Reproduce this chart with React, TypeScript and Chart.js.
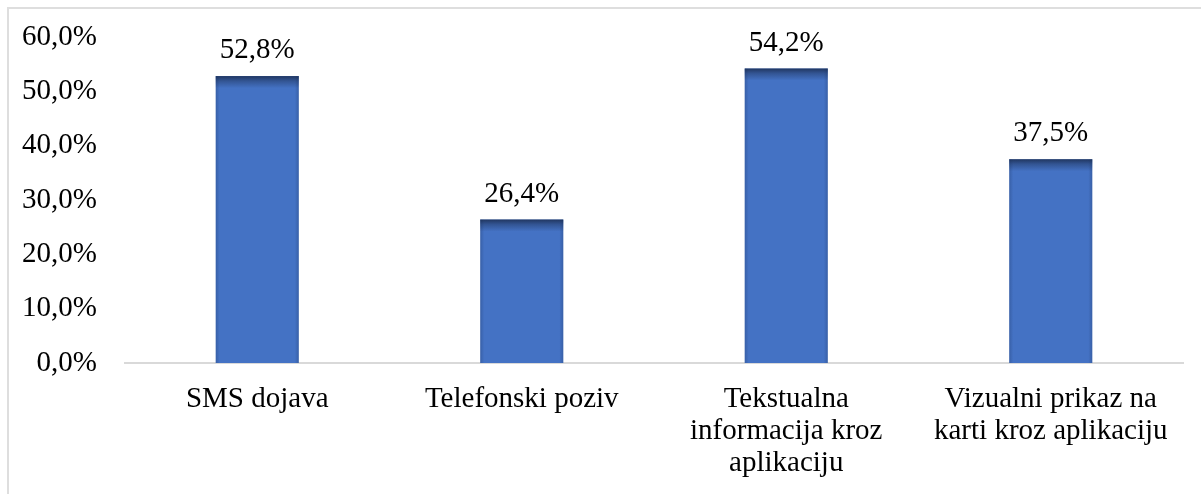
import React, { useEffect, useRef } from "react";
import { Chart, registerables } from "chart.js";

Chart.register(...registerables);

const categories: string[][] = [
  ["SMS dojava"],
  ["Telefonski poziv"],
  ["Tekstualna", "informacija kroz", "aplikaciju"],
  ["Vizualni prikaz na", "karti kroz aplikaciju"],
];
const values: number[] = [52.8, 26.4, 54.2, 37.5];
const yMin = 0;
const yMax = 60;
const yStep = 10;

const FONT = "'Liberation Serif', 'Times New Roman', serif";
const FS = 29;

const fmt = (v: number) => v.toFixed(1).replace(".", ",") + "%";

const dataLabelPlugin = {
  id: "dataLabels",
  afterDatasetsDraw(chart: any) {
    const ctx = chart.ctx;
    const meta = chart.getDatasetMeta(0);
    ctx.save();
    ctx.font = `${FS}px ${FONT}`;
    ctx.fillStyle = "#000";
    ctx.textAlign = "center";
    ctx.textBaseline = "alphabetic";
    meta.data.forEach((bar: any, i: number) => {
      ctx.fillText(fmt(values[i]), bar.x, bar.y - 18);
    });
    ctx.restore();
  },
};

const barShadePlugin = {
  id: "barShade",
  afterDatasetDraw(chart: any) {
    const ctx = chart.ctx;
    const meta = chart.getDatasetMeta(0);
    ctx.save();
    meta.data.forEach((bar: any) => {
      const left = bar.x - bar.width / 2;
      const right = bar.x + bar.width / 2;
      const top = bar.y;
      const bottom = bar.base;
      if (![left, right, top, bottom].every(Number.isFinite)) return;
      const gt = ctx.createLinearGradient(0, top, 0, top + 12);
      gt.addColorStop(0, "rgba(24,40,72,0.8)");
      gt.addColorStop(0.4, "rgba(24,40,72,0.4)");
      gt.addColorStop(1, "rgba(24,40,72,0)");
      ctx.fillStyle = gt;
      ctx.fillRect(left, top, right - left, Math.min(12, bottom - top));
      const gl = ctx.createLinearGradient(left, 0, left + 4, 0);
      gl.addColorStop(0, "rgba(20,40,80,0.25)");
      gl.addColorStop(1, "rgba(20,40,80,0)");
      ctx.fillStyle = gl;
      ctx.fillRect(left, top, 4, bottom - top);
      const gr = ctx.createLinearGradient(right, 0, right - 4, 0);
      gr.addColorStop(0, "rgba(20,40,80,0.25)");
      gr.addColorStop(1, "rgba(20,40,80,0)");
      ctx.fillStyle = gr;
      ctx.fillRect(right - 4, top, 4, bottom - top);
    });
    ctx.restore();
  },
};

export default function App() {
  const canvasRef = useRef<HTMLCanvasElement | null>(null);

  useEffect(() => {
    if (!canvasRef.current) return;
    const chart = new Chart(canvasRef.current, {
      type: "bar",
      data: {
        labels: categories,
        datasets: [
          {
            data: values,
            backgroundColor: "#4472c4",
            borderWidth: 0,
            barPercentage: 0.314,
            categoryPercentage: 1,
          },
        ],
      },
      options: {
        responsive: false,
        animation: false,
        layout: { padding: { top: 37, right: 18, left: 0, bottom: 0 } },
        plugins: {
          legend: { display: false },
          tooltip: { enabled: false },
        },
        scales: {
          x: {
            grid: { display: false, drawTicks: false },
            border: { display: true, color: "#d9d9d9", width: 2 },
            ticks: {
              color: "#000",
              font: { family: FONT, size: FS, lineHeight: 32 / FS },
              padding: 20,
              maxRotation: 0,
              autoSkip: false,
            },
            afterFit: (s: any) => {
              s.height = 131;
              s.paddingLeft = 0;
              s.paddingRight = 0;
            },
          },
          y: {
            min: yMin,
            max: yMax,
            grid: { display: false, drawTicks: false },
            border: { display: false },
            ticks: {
              stepSize: yStep,
              color: "#000",
              font: { family: FONT, size: FS },
              padding: 28,
              callback: (v: any) => fmt(Number(v)),
            },
            afterFit: (s: any) => {
              s.width = 125;
              s.paddingTop = 0;
              s.paddingBottom = 0;
            },
          },
        },
      },
      plugins: [barShadePlugin, dataLabelPlugin],
    });
    return () => chart.destroy();
  }, []);

  return (
    <>
      <div
        style={{
          position: "fixed",
          left: 7,
          top: 7,
          width: 1300,
          height: 600,
          border: "2px solid #dedede",
          boxSizing: "border-box",
          background: "#fff",
        }}
      />
      <canvas
        ref={canvasRef}
        width={1201}
        height={494}
        style={{ position: "fixed", left: 0, top: 0, width: 1201, height: 494 }}
      />
    </>
  );
}
